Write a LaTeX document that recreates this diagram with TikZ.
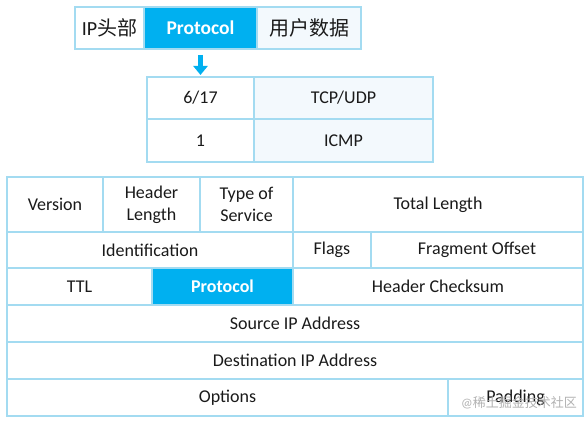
\documentclass[tikz,border=0pt]{standalone}
\usepackage{fontspec}
\setmainfont{Carlito}
\newfontfamily\cjk{Noto Sans CJK SC}
\usetikzlibrary{arrows.meta}
\definecolor{bordc}{HTML}{A3DBF1}
\definecolor{bluef}{HTML}{00B0F0}
\definecolor{tintf}{HTML}{F3F9FD}
\definecolor{txtc}{HTML}{1A1A1A}
\tikzset{
  cell/.style={draw=bordc, line width=1.5pt, anchor=north west, inner sep=0pt, outer sep=0pt,
    text=txtc, align=center, font=\fontsize{18}{22}\selectfont},
  hot/.style={cell, fill=bluef, text=white, font=\fontsize{18}{22}\selectfont\bfseries},
  tint/.style={cell, fill=tintf},
  bigarrow/.style={draw=bluef, line width=5pt, -{Triangle[width=14pt,length=9pt]}},
}
\newcommand\cellbox[7]{% style, name, x1, y1, x2, y2, text
  \node[#1, minimum width={#5-#3}, minimum height={#6-#4}] (#2) at (#3,#4) {#7};}
\begin{document}
\begin{tikzpicture}[x=1pt,y=-1pt]
\useasboundingbox[fill=white] (0,0) rectangle (588,422);
% top bar
\cellbox{cell}{iph}{75}{7}{144}{49}{\fontsize{20}{22}\selectfont IP{\cjk 头部}}
\cellbox{hot}{pt}{144}{7}{257}{49}{\fontsize{19.5}{22}\selectfont Protocol}
\cellbox{tint}{ud}{257}{7}{361}{49}{\fontsize{20}{22}\selectfont\cjk 用户数据}
% mapping table
\cellbox{cell}{m1a}{147}{77}{254}{119}{6/17}
\cellbox{tint}{m1b}{254}{77}{433}{119}{TCP/UDP}
\cellbox{cell}{m2a}{147}{119}{254}{162}{1}
\cellbox{tint}{m2b}{254}{119}{433}{162}{ICMP}
\draw[bigarrow, shorten <=6pt, shorten >=2pt] (pt.south) -- (pt.south |- m1a.north);
% IP header
\cellbox{cell}{ver}{7}{177}{103}{232}{Version}
\cellbox{cell}{hl}{103}{177}{200}{232}{Header\\Length}
\cellbox{cell}{tos}{200}{177}{293}{232}{Type of\\Service}
\cellbox{cell}{tl}{293}{177}{583}{232}{Total Length}
\cellbox{cell}{idf}{7}{232}{293}{268}{Identification}
\cellbox{cell}{flg}{293}{232}{371}{268}{Flags}
\cellbox{cell}{fo}{371}{232}{583}{268}{Fragment Offset}
\cellbox{cell}{ttl}{7}{268}{152}{305}{TTL}
\cellbox{hot}{pr}{152}{268}{293}{305}{Protocol}
\cellbox{cell}{hc}{293}{268}{583}{305}{Header Checksum}
\cellbox{cell}{src}{7}{305}{583}{342}{Source IP Address}
\cellbox{cell}{dst}{7}{342}{583}{379}{Destination IP Address}
\cellbox{cell}{opt}{7}{379}{448}{416}{Options}
\cellbox{cell}{pad}{448}{379}{583}{416}{Padding}
\node[text=black!30, font=\fontsize{13}{15}\selectfont, anchor=east, inner sep=0pt] (wm) at (577,403) {@{\cjk 稀土掘金技术社区}};
\end{tikzpicture}
\end{document}
